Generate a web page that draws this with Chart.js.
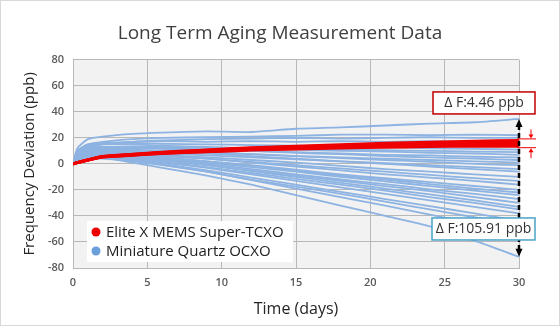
<!DOCTYPE html>
<html>
<head>
<meta charset="utf-8">
<script src="https://cdn.jsdelivr.net/npm/chart.js@4"></script>
<style>
    html, body { margin: 0; padding: 0; background: #fff; }
    .chart-container { width: 558px; height: 324px; border: 1px solid #d9d9d9; }
</style>
</head>
<body>
<div class="chart-container">
    <canvas id="agingChart" width="558" height="324"></canvas>
</div>

<script>
    // sample times (days)
    const days = [0, 0.3, 1, 2, 4, 6, 9, 12, 15, 18, 21, 24, 27, 30];

    // Elite X MEMS Super-TCXO runs (ppb)
    const tcxoRuns = [
        [0, 1, 2.9, 5.3, 6.6, 8.0, 9.3, 10.6, 11.4, 12.2, 12.8, 13.3, 13.6, 13.6],
        [0, 1, 2.95, 5.4, 6.8, 8.2, 9.6, 11.0, 11.9, 12.8, 13.5, 14.1, 14.5, 14.7],
        [0, 1, 3, 5.5, 7.0, 8.5, 10.0, 11.5, 12.5, 13.5, 14.3, 15.0, 15.5, 15.8],
        [0, 1, 3.05, 5.6, 7.2, 8.8, 10.4, 12.0, 13.1, 14.2, 15.1, 15.9, 16.5, 16.9],
        [0, 1, 3.1, 5.7, 7.4, 9.0, 10.7, 12.4, 13.6, 14.8, 15.8, 16.7, 17.4, 18.06]
    ];

    // Miniature Quartz OCXO runs (ppb)
    const ocxoRuns = [
        [0, 12, 19, 21, 23, 24, 25, 24.5, 27, 28, 29.5, 31, 32, 34.55],
        [0, 10, 15, 17, 19, 20, 20.5, 21, 21.5, 22.5, 22.5, 22, 22.5, 22],
        [0, 8, 13, 15, 17, 18, 19, 19.5, 20, 19.5, 20, 20.5, 20, 20],
        [0, 9, 14, 16, 17, 17.5, 17, 17.5, 17, 17.5, 17, 17.5, 17, 17.5],
        [0, 10, 15, 16, 16, 15.5, 15, 14.5, 14, 13.5, 13, 12, 11.5, 11],
        [0, 7, 12, 13, 13.5, 13, 12.5, 12, 11.5, 11, 10.5, 10, 9.5, 9],
        [0, 8, 13, 15, 15, 14, 13, 12, 11, 10, 9.5, 8.5, 8, 7],
        [0, 6, 11, 12, 12, 11.5, 11, 10, 9, 8, 7, 6.5, 5.5, 5],
        [0, 7, 12, 13, 13, 12, 11, 10, 8.5, 7.5, 6, 5, 4, 3],
        [0, 5, 9, 10, 10, 9.5, 8.5, 7.5, 6, 5, 4, 3, 2, 1],
        [0, 6, 10, 11, 11, 10, 9, 7.5, 6, 4.5, 3, 1.5, 0, -1],
        [0, 5, 8, 9, 9, 8, 6.5, 5, 3.5, 2, 0.5, -1, -2.5, -4],
        [0, 6, 10, 11, 10.5, 9.5, 8, 6, 4, 2, 0, -2, -4, -6],
        [0, 5, 8, 9, 8.5, 7, 5, 3, 1, -1.5, -4, -6, -8, -10],
        [0, 4, 7, 8, 7.5, 6, 4, 1.5, -1, -3.5, -6, -8.5, -11, -13],
        [0, 5, 8, 8.5, 8, 6.5, 4, 1, -2, -5, -8, -10.5, -13, -16],
        [0, 4, 7, 8, 7, 5, 2, -1, -4.5, -8, -11, -14, -17, -20],
        [0, 5, 7, 7.5, 7, 5, 2, -1.5, -5, -9, -12, -15.5, -19, -22],
        [0, 3, 6, 7, 6, 4, 1, -2.5, -6, -10, -13.5, -17, -20.5, -24],
        [0, 4, 6, 6.5, 5.5, 3.5, 0, -4, -8, -12, -15.5, -19.5, -23, -27],
        [0, 3, 5, 5.5, 4.5, 2.5, -1, -5, -9, -13, -17, -21, -25.5, -30],
        [0, 4, 6, 6, 5, 3, -1, -5.5, -10, -14.5, -19, -23.5, -28, -33],
        [0, 3, 5, 5.5, 4, 1.5, -2.5, -7, -11.5, -16, -20.5, -25.5, -30, -35],
        [0, 4, 5, 5, 3.5, 1, -3, -8, -13, -18, -23, -28, -33, -38],
        [0, 3, 5, 5, 3, 0, -5, -10.5, -16, -21.5, -27, -32.5, -38, -44],
        [0, 3, 4, 4, 2, -1, -6, -12, -17.5, -23, -29, -35, -41, -48],
        [0, 3, 4.5, 4.5, 2.5, -0.5, -6, -12.5, -19, -25.5, -32, -39, -46, -53],
        [0, 4, 6, 5, 1, -3, -9, -16, -24, -32, -40, -48, -59, -71.36]
    ];

    const seriesNames = ['Elite X MEMS Super-TCXO', 'Miniature Quartz OCXO'];
    const spreadLabels = ['\u0394 F:4.46 ppb', '\u0394 F:105.91 ppb'];
    const xTicks = [0, 5, 10, 15, 20, 25, 30];
    const yTicks = [-80, -60, -40, -20, 0, 20, 40, 60, 80];

    const RED = '#ee0000';
    const BLUE = '#8db3e2';
    const FONT = "'Open Sans', 'DejaVu Sans', sans-serif";

    function toPoints(run) {
        return run.map((v, i) => ({ x: days[i], y: v }));
    }

    // red first so it is drawn on top
    const datasets = [];
    tcxoRuns.forEach(run => datasets.push({
        label: seriesNames[0], data: toPoints(run),
        borderColor: RED, borderWidth: 3, pointRadius: 0, tension: 0.2
    }));
    ocxoRuns.forEach(run => datasets.push({
        label: seriesNames[1], data: toPoints(run),
        borderColor: BLUE, borderWidth: 1.8, pointRadius: 0, tension: 0.2
    }));

    const plotBg = {
        id: 'plotBg',
        beforeDraw(chart) {
            const { ctx, chartArea: a } = chart;
            ctx.save();
            ctx.fillStyle = '#f2f2f2';
            ctx.fillRect(a.left, a.top, a.width, a.height);
            ctx.restore();
        }
    };

    function head(ctx, x, tipY, dir, w, h) {
        ctx.beginPath();
        ctx.moveTo(x, tipY);
        ctx.lineTo(x - w, tipY - dir * h);
        ctx.lineTo(x + w, tipY - dir * h);
        ctx.closePath();
        ctx.fill();
    }

    function labelBox(ctx, text, left, right, top, color) {
        ctx.fillStyle = '#fff';
        ctx.fillRect(left, top, right - left, 22);
        ctx.strokeStyle = color;
        ctx.lineWidth = 1.5;
        ctx.strokeRect(left, top, right - left, 22);
        ctx.fillStyle = '#333';
        ctx.font = '14px ' + FONT;
        ctx.textAlign = 'center';
        ctx.textBaseline = 'middle';
        ctx.fillText(text, (left + right) / 2, top + 11.5);
    }

    const spreadMarks = {
        id: 'spreadMarks',
        afterDatasetsDraw(chart) {
            const { ctx, scales: { x, y }, chartArea: a } = chart;
            const last = days.length - 1;
            const xe = x.getPixelForValue(days[last]);
            const blueEnds = ocxoRuns.map(r => r[last]);
            const redEnds = tcxoRuns.map(r => r[last]);
            const bTop = y.getPixelForValue(Math.max(...blueEnds));
            const bBot = y.getPixelForValue(Math.min(...blueEnds));
            const rTop = y.getPixelForValue(Math.max(...redEnds));
            const rBot = y.getPixelForValue(Math.min(...redEnds));

            ctx.save();
            // dashed black spread line
            ctx.strokeStyle = '#000';
            ctx.fillStyle = '#000';
            ctx.lineWidth = 2.5;
            ctx.setLineDash([5, 3]);
            ctx.beginPath();
            ctx.moveTo(xe, bTop + 6);
            ctx.lineTo(xe, bBot - 6);
            ctx.stroke();
            ctx.setLineDash([]);
            head(ctx, xe, bTop, -1, 3.5, 8);
            head(ctx, xe, bBot, 1, 3.5, 8);

            // red spread marks
            ctx.strokeStyle = RED;
            ctx.fillStyle = RED;
            ctx.lineWidth = 1;
            ctx.beginPath();
            ctx.moveTo(xe - 2, rTop - 1.5); ctx.lineTo(xe + 17, rTop - 1.5);
            ctx.moveTo(xe - 2, rBot + 1.5); ctx.lineTo(xe + 17, rBot + 1.5);
            ctx.moveTo(xe + 12, rTop - 11); ctx.lineTo(xe + 12, rTop - 5);
            ctx.moveTo(xe + 12, rBot + 12); ctx.lineTo(xe + 12, rBot + 5);
            ctx.stroke();
            head(ctx, xe + 12, rTop - 2, 1, 2.5, 4);
            head(ctx, xe + 12, rBot + 2, -1, 2.5, 4);

            // labels
            labelBox(ctx, spreadLabels[0], xe - 86, xe + 16, bTop - 27, '#c00000');
            labelBox(ctx, spreadLabels[1], xe - 87, xe + 16, y.getPixelForValue(-50) - 11, '#4aa3c8');

            // legend inside the plot
            const lx = a.left + 14, ly = a.bottom - 47;
            ctx.fillStyle = '#fff';
            ctx.fillRect(lx, ly, 206, 41);
            ctx.font = '15px ' + FONT;
            ctx.textAlign = 'left';
            ctx.textBaseline = 'middle';
            [RED, '#6a9fdc'].forEach((c, i) => {
                const cy = ly + 11 + i * 19;
                ctx.fillStyle = c;
                ctx.beginPath();
                ctx.arc(lx + 9, cy, 4.5, 0, Math.PI * 2);
                ctx.fill();
                ctx.fillStyle = '#222';
                ctx.fillText(seriesNames[i], lx + 19, cy + 1);
            });
            ctx.restore();
        }
    };

    const ctx = document.getElementById('agingChart').getContext('2d');
    new Chart(ctx, {
        type: 'line',
        data: { datasets: datasets },
        plugins: [plotBg, spreadMarks],
        options: {
            responsive: false,
            animation: false,
            layout: { padding: 0 },
            plugins: {
                legend: { display: false },
                tooltip: { enabled: false },
                title: {
                    display: true,
                    text: 'Long Term Aging Measurement Data',
                    color: '#404040',
                    font: { family: FONT, size: 19, weight: 'normal' },
                    padding: { top: 21, bottom: 15 }
                }
            },
            scales: {
                x: {
                    type: 'linear',
                    min: 0,
                    max: 30,
                    afterBuildTicks: s => { s.ticks = xTicks.map(v => ({ value: v })); },
                    ticks: { color: '#595959', font: { family: FONT, size: 11, weight: '600' }, padding: 8 },
                    grid: { color: '#b8b8b8', drawTicks: false },
                    border: { color: '#b8b8b8' },
                    title: {
                        display: true, text: 'Time (days)', color: '#262626',
                        font: { family: FONT, size: 16 }, padding: { top: 0, bottom: 6 }
                    },
                    afterFit: s => { s.height = 57; }
                },
                y: {
                    min: -80,
                    max: 80,
                    afterBuildTicks: s => { s.ticks = yTicks.map(v => ({ value: v })); },
                    ticks: { color: '#595959', font: { family: FONT, size: 11, weight: '600' }, padding: 9 },
                    grid: { color: '#b8b8b8', drawTicks: false },
                    border: { color: '#b8b8b8' },
                    title: {
                        display: true, text: 'Frequency Deviation (ppb)', color: '#262626',
                        font: { family: FONT, size: 15 }, padding: { top: 20, bottom: 0 }
                    },
                    afterFit: s => { s.width = 72; }
                },
                // empty right-hand margin so the title stays centred on the page
                yRight: {
                    position: 'right',
                    min: -80,
                    max: 80,
                    grid: { display: false },
                    border: { display: false },
                    ticks: { display: false },
                    afterFit: s => { s.width = 40; }
                }
            }
        }
    });
</script>
</body>
</html>
